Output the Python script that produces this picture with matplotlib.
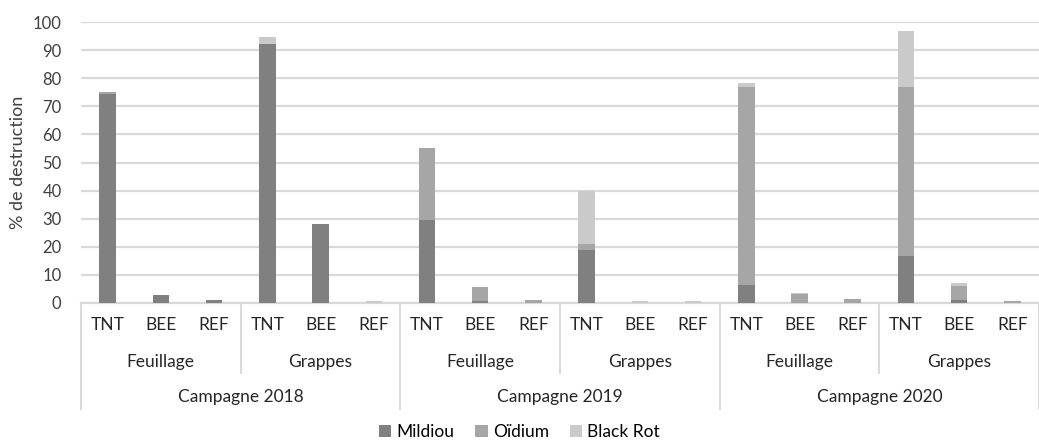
import numpy as np
import matplotlib
matplotlib.use("Agg")
import matplotlib.pyplot as plt
from matplotlib.transforms import blended_transform_factory

plt.rcParams["font.family"] = ["Lato", "DejaVu Sans"]

campagnes = ["Campagne 2018", "Campagne 2019", "Campagne 2020"]
organes = ["Feuillage", "Grappes"]
modalites = ["TNT", "BEE", "REF"]

# one value per bar, order: campagne > organe > modalite
mildiou = [74.5, 2.7, 1.1, 92.3, 28.0, 0.0,
           29.6, 0.7, 0.0, 19.0, 0.0, 0.0,
           6.4, 0.0, 0.0, 16.8, 1.2, 0.0]
oidium = [0.5, 0.0, 0.0, 0.0, 0.0, 0.0,
          25.7, 5.0, 1.1, 2.0, 0.0, 0.0,
          70.6, 3.2, 1.5, 60.2, 4.7, 0.7]
black_rot = [0.0, 0.0, 0.0, 2.4, 0.0, 0.6,
             0.0, 0.0, 0.0, 19.0, 0.6, 0.6,
             1.2, 0.5, 0.0, 19.8, 1.3, 0.0]

series = [("Mildiou", mildiou, "#808080"),
          ("Oïdium", oidium, "#a6a6a6"),
          ("Black Rot", black_rot, "#cacaca")]

fig = plt.figure(figsize=(10.39, 4.41), dpi=100)
ax = fig.add_axes([0.078, 0.313, 0.922, 0.637])

n = len(mildiou)
x = np.arange(n)
bottom = np.zeros(n)
for name, vals, col in series:
    ax.bar(x, vals, width=0.31, bottom=bottom, color=col, label=name, zorder=3)
    bottom += np.array(vals)

ax.set_xlim(-0.5, n - 0.5)
ax.set_ylim(0, 100)
ax.set_yticks(range(0, 101, 10))
ax.yaxis.grid(True, color="#d9d9d9", linewidth=1.6, zorder=0)
ax.tick_params(axis="y", length=0, labelsize=12, pad=14, colors="#404040")
ax.tick_params(axis="x", length=0)
ax.set_xticks([])
for s in ["top", "right", "left"]:
    ax.spines[s].set_visible(False)
ax.spines["bottom"].set_color("#d9d9d9")
ax.spines["bottom"].set_linewidth(1.6)
ax.set_ylabel("% de destruction", fontsize=13, color="#404040", labelpad=5)

# multi-level category axis
tr = blended_transform_factory(ax.transData, fig.transFigure)
px = lambda p: 1 - p / 441.0
lab = dict(ha="center", va="center", fontsize=12.5, color="#262626", transform=tr)
for i in range(n):
    ax.text(x[i], px(325), modalites[i % 3], **lab)
for j in range(n // 3):
    ax.text(3 * j + 1, px(362), organes[j % 2], **lab)
for k in range(len(campagnes)):
    ax.text(6 * k + 2.5, px(397), campagnes[k], **lab)

line = dict(color="#d9d9d9", linewidth=1.4, transform=tr, clip_on=False)
for j in range(n // 3 + 1):
    xb = 3 * j - 0.5
    y_end = px(409) if j % 2 == 0 else px(373)
    ax.add_line(plt.Line2D([xb, xb], [px(303), y_end], **line))

fig.legend(loc="center", bbox_to_anchor=(0.5, 1 - 432 / 441.0), ncol=3,
           frameon=False, fontsize=12.5, handlelength=0.7, handleheight=0.7,
           handletextpad=0.3, columnspacing=1.2)

fig.savefig("out.png", dpi=100)
